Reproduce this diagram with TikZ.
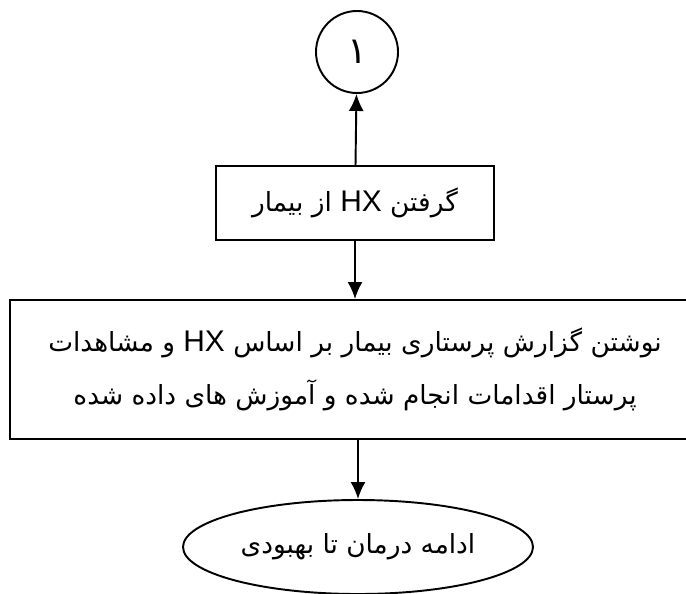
\documentclass[tikz,border=0pt]{standalone}
\usepackage{fontspec}
\usetikzlibrary{shapes.geometric,arrows.meta}
\newfontfamily\farsi[Script=Arabic]{DejaVu Sans}
\newfontfamily\latin{Liberation Sans}
\TeXXeTstate=1
\newcommand{\fa}[1]{\beginR #1\endR}
\newcommand{\en}[1]{{\latin\fontsize{17}{30}\selectfont\beginL #1\endL}}
\tikzset{
  boxnode/.style={draw, line width=1.1pt, inner sep=0pt, font=\farsi\fontsize{15}{30}\selectfont, align=center},
  flow/.style={->, line width=1.1pt}
}
\begin{document}
\begin{tikzpicture}[>={Latex[length=3.4mm,width=3mm]}]
\useasboundingbox (0,0) rectangle (13.72,-11.86);

\node [boxnode, circle, minimum size=1.64cm, font=\farsi\fontsize{21}{24}\selectfont] (one) at (7.14,-1.04) {\fa{۱}};
\node [boxnode, minimum width=5.56cm, minimum height=1.48cm] (hx) at (7.10,-4.06)
   {\fa{گرفتن \en{HX} از بیمار}};
\node [boxnode, minimum width=13.8cm, minimum height=2.78cm] (report) at (7.10,-7.39)
   {\fa{نوشتن گزارش پرستاری بیمار بر اساس \en{HX} و مشاهدات}\\
    \fa{پرستار اقدامات انجام شده و آموزش های داده شده}};
\node [boxnode, ellipse, minimum width=7cm, minimum height=1.88cm] (end) at (7.16,-10.94)
   {\fa{ادامه درمان تا بهبودی}};

\draw [flow] (hx) -- (one);
\draw [flow] (hx.south) -- (hx.south |- report.north);
\draw [flow] (end.north |- report.south) -- (end);
\end{tikzpicture}
\end{document}
